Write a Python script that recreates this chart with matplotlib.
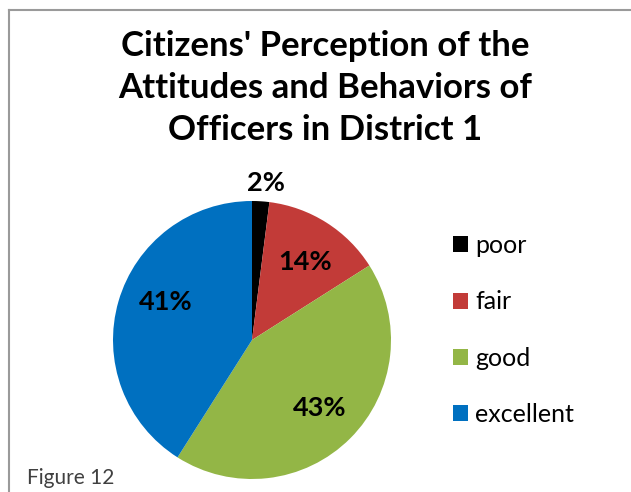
import matplotlib.pyplot as plt
from matplotlib.lines import Line2D
from matplotlib.patches import Patch

# data
categories = ["poor", "fair", "good", "excellent"]
shares = [2, 14, 43, 41]
pct_labels = ["2%", "14%", "43%", "41%"]
colors = ["#000000", "#C23B38", "#93B646", "#0070C0"]

title = "Citizens' Perception of the\nAttitudes and Behaviors of\nOfficers in District 1"

W, H = 631, 492
fig = plt.figure(figsize=(W / 100, H / 100), dpi=100)
fig.patch.set_facecolor("white")

# frame: only top and left edges are visible in the crop
border = "#9A9A9A"
fig.add_artist(Line2D([9 / W, 1.0], [1 - 10 / H, 1 - 10 / H], color=border, lw=1.5))
fig.add_artist(Line2D([9 / W, 9 / W], [0.0, 1 - 10 / H], color=border, lw=1.5))

# pie placed by pixel centre and radius
cx, cy, r = 252, 340, 139
ax = fig.add_axes([(cx - r) / W, 1 - (cy + r) / H, 2 * r / W, 2 * r / H])
wedges, _ = ax.pie(shares, colors=colors, startangle=90, counterclock=False,
                   radius=1.0, wedgeprops=dict(linewidth=0))
ax.set_xlim(-1, 1)
ax.set_ylim(-1, 1)
ax.set_aspect("equal")
ax.axis("off")

# percentage labels (fig pixel positions of label centres)
label_pos = [(266, 183), (305, 262), (320, 408), (166, 302)]
for txt, (px, py) in zip(pct_labels, label_pos):
    fig.text(px / W, 1 - py / H, txt, ha="center", va="center",
             fontsize=19.5, fontweight="bold", family="Lato")

fig.text(325 / W, 1 - 88 / H, title, ha="center", va="center",
         fontsize=25, fontweight="bold", family="Lato", linespacing=1.38)

handles = [Patch(facecolor=c, edgecolor="none") for c in colors]
fig.legend(handles, categories, loc="center left",
           bbox_to_anchor=(453 / W, 1 - 330 / H), frameon=False,
           prop=dict(family="Lato", size=18), handlelength=0.6, handleheight=0.6,
           handletextpad=0.3, labelspacing=1.33, borderpad=0, borderaxespad=0)

fig.text(27 / W, 1 - 478 / H, "Figure 12", ha="left", va="center",
         fontsize=15, family="Lato", color="#404040")

fig.savefig("out.png", dpi=100)
